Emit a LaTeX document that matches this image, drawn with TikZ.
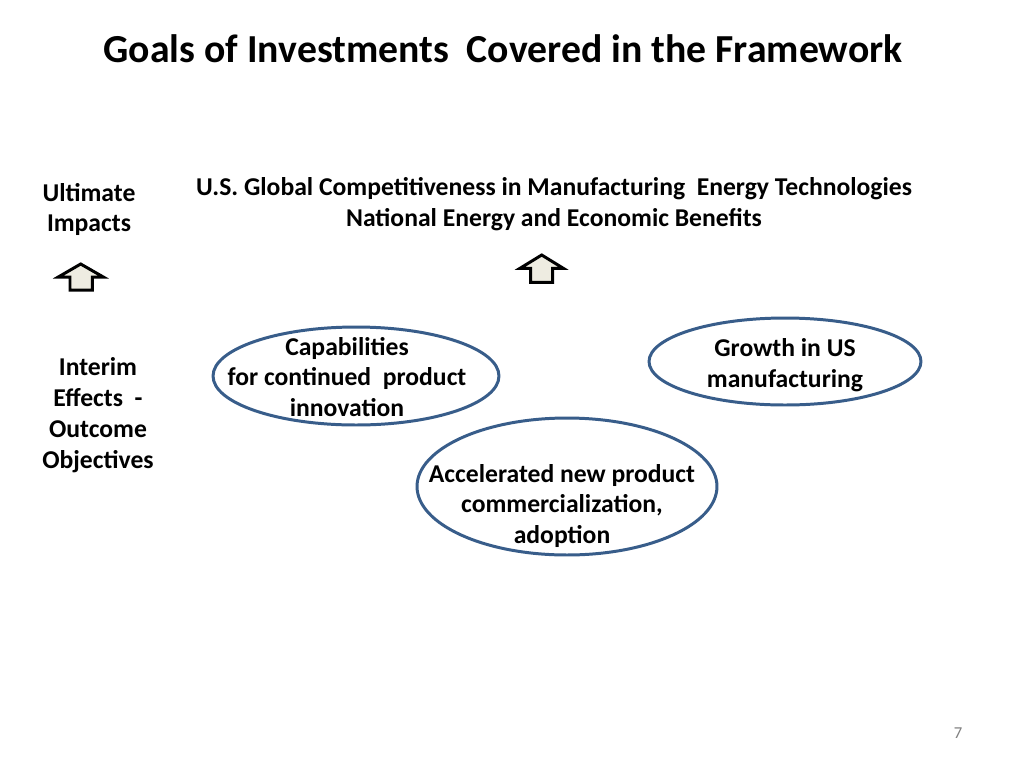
\documentclass[tikz,border=0pt]{standalone}
\usepackage{fontspec}
\setmainfont{Carlito}
\usetikzlibrary{shapes.geometric}
\definecolor{outl}{HTML}{385D8A}
\definecolor{arrfill}{HTML}{EEECE1}
\tikzset{
  px/.style={x=0.02cm,y=-0.02cm},
  body/.style={font=\fontsize{14.6pt}{17.6pt}\selectfont\bfseries, align=center, inner sep=0pt},
  oval/.style={ellipse, draw=outl, line width=1.7pt, inner sep=0pt},
  uparrow/.style={draw=black, fill=arrfill, line width=1.7pt, line join=miter}
}
\begin{document}
\begin{tikzpicture}[px]
\useasboundingbox (0,0) rectangle (1024,768);
\fill[white] (0,0) rectangle (1024,768);

\node[font=\fontsize{22.6pt}{26pt}\selectfont\bfseries, inner sep=0pt] (title) at (503,49) {Goals of Investments\ \ Covered in the Framework};

\node[body] (ult) at (89,209.5) {Ultimate\\Impacts};
\node[body] (top) at (554,204) {U.S. Global Competitiveness in Manufacturing\ \ Energy Technologies\\National Energy and Economic Benefits};
\node[body] (interim) at (98,415.5) {Interim\\Effects\ \ -\\Outcome\\Objectives};

\draw[uparrow] (80.7,264) -- (103.3,277) -- (92.3,277) -- (92.3,290) -- (70,290) -- (70,277) -- (58.3,277) -- cycle;
\draw[uparrow] (541.7,255) -- (563.3,268.3) -- (552.7,268.3) -- (552.7,282.3) -- (530.7,282.3) -- (530.7,268.3) -- (520,268.3) -- cycle;

\node[oval, minimum width=5.72cm, minimum height=1.96cm] (e1) at (356,376) {};
\node[oval, minimum width=6.0cm, minimum height=2.74cm] (e2) at (567,486.5) {};
\node[oval, minimum width=5.44cm, minimum height=1.74cm] (e3) at (785,361.5) {};

\node[body] (t1) at (347,377) {Capabilities\\for continued\ \ product\\innovation};
\node[body] (t2) at (562,506) {Accelerated new product\\commercialization,\\adoption};
\node[body] (t3) at (785,365) {Growth in US\\manufacturing};

\node[font=\fontsize{9.5pt}{10pt}\selectfont, text=gray, inner sep=0pt] (pg) at (958,733) {7};
\end{tikzpicture}
\end{document}
